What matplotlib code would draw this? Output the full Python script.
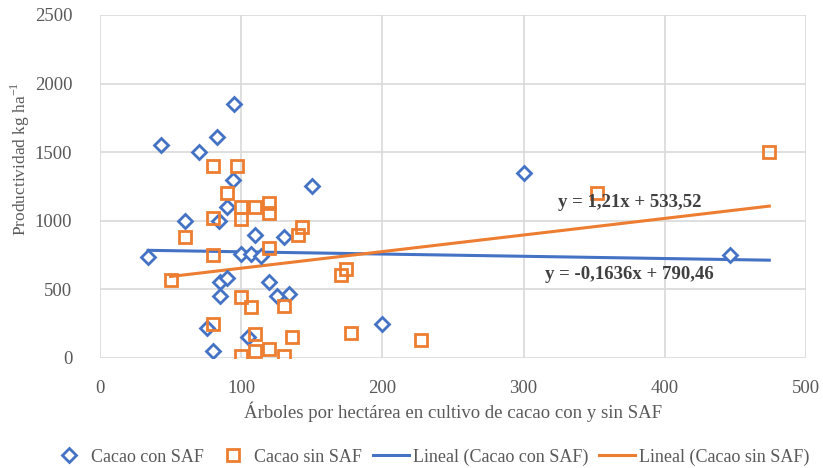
import matplotlib

matplotlib.use("Agg")
import matplotlib.pyplot as plt  # noqa: E402
import numpy as np  # noqa: E402

# Cacao con SAF (árboles/ha, kg/ha)
con_x = [95, 43, 83, 70, 94, 90, 60, 84, 34, 100, 107, 114, 85, 90, 85, 76, 80,
         105, 110, 130, 150, 120, 125, 134, 200, 300, 446]
con_y = [1850, 1555, 1610, 1500, 1300, 1100, 1000, 995, 735, 760, 755, 740, 555,
         580, 455, 220, 50, 155, 900, 880, 1250, 555, 450, 470, 250, 1350, 750]

# Cacao sin SAF
sin_x = [80, 97, 90, 100, 110, 120, 120, 100, 80, 60, 80, 50, 140, 143, 120, 171,
         174, 100, 107, 130, 80, 110, 136, 178, 100, 110, 120, 130, 227, 352, 474]
sin_y = [1400, 1400, 1200, 1100, 1100, 1130, 1060, 1010, 1020, 880, 750, 570, 900,
         955, 800, 605, 650, 445, 370, 380, 250, 175, 150, 185, 15, 50, 63, 15, 130,
         1200, 1500]

# trendline coefficients (slope, intercept) and x span as shown by Excel
con_fit = (-0.1636, 790.46)
sin_fit = (1.21, 533.52)
con_span = [34, 474]
sin_span = [50, 474]

BLUE = "#4472C4"
ORANGE = "#ED7D31"
GRID = "#D9D9D9"
TXT = "#595959"

plt.rcParams["font.family"] = ["Liberation Serif", "DejaVu Serif"]
plt.rcParams["mathtext.fontset"] = "custom"
plt.rcParams["mathtext.rm"] = "Liberation Serif"

fig = plt.figure(figsize=(8.23, 4.68), dpi=100)
ax = fig.add_axes([100 / 823, 1 - 358 / 468, 706 / 823, 343 / 468])

ax.plot(con_x, con_y, linestyle="none", marker="D", markersize=7,
        markerfacecolor="white", markeredgecolor=BLUE, markeredgewidth=2.0,
        label="Cacao con SAF", zorder=3)
ax.plot(sin_x, sin_y, linestyle="none", marker="s", markersize=9,
        markerfacecolor="none", markeredgecolor=ORANGE, markeredgewidth=2.0,
        label="Cacao sin SAF", zorder=4)

cx = np.array(con_span)
sx = np.array(sin_span)
ax.plot(cx, con_fit[0] * cx + con_fit[1], color=BLUE, lw=2.2,
        label="Lineal (Cacao con SAF)", zorder=2)
ax.plot(sx, sin_fit[0] * sx + sin_fit[1], color=ORANGE, lw=2.2,
        label="Lineal (Cacao sin SAF)", zorder=2)

ax.text(375, 1137, "y = 1,21x + 533,52", ha="center", va="center",
        fontsize=13.5, fontweight="bold", color="#404040", zorder=5)
ax.text(375, 605, "y = -0,1636x + 790,46", ha="center", va="center",
        fontsize=13.5, fontweight="bold", color="#404040", zorder=5)

ax.set_xlim(0, 500)
ax.set_ylim(0, 2500)
ax.set_xticks(range(0, 501, 100))
ax.set_yticks(range(0, 2501, 500))
ax.grid(True, color=GRID, lw=1.2)
ax.set_axisbelow(True)
for s in ax.spines.values():
    s.set_visible(False)
ax.tick_params(length=0, labelsize=13.5, colors=TXT)
ax.tick_params(axis="y", pad=20)
ax.tick_params(axis="x", pad=16)

ax.set_xlabel("Árboles por hectárea en cultivo de cacao con y sin SAF",
              fontsize=13.5, color=TXT, labelpad=3)
fig.text(20 / 823, 1 - 159 / 468, "Productividad kg ha$^{\\mathregular{-1}}$",
         rotation=90, ha="center", va="center", fontsize=12.5, color=TXT)

fig.legend(loc="center", bbox_to_anchor=(430 / 823, 1 - 457 / 468), ncol=4,
           frameon=False, fontsize=13, handlelength=2.0, handletextpad=0.2,
           columnspacing=0.6, labelcolor=TXT)

fig.savefig("out.png", dpi=100)
